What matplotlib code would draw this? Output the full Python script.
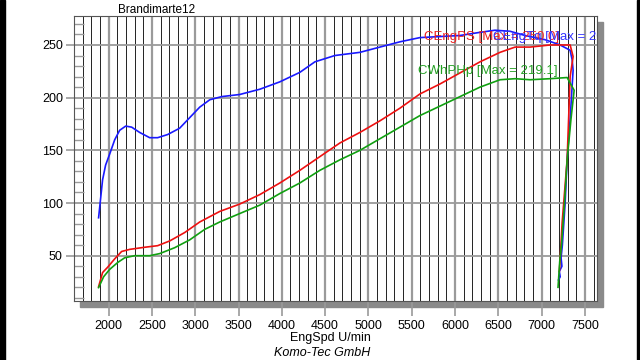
import matplotlib
matplotlib.use("Agg")
import matplotlib.pyplot as plt
from matplotlib.patches import Rectangle
from matplotlib.ticker import MultipleLocator

plt.rcParams['font.family'] = ['Liberation Sans', 'DejaVu Sans']

# engine torque (blue), engine power (red), wheel power (green) vs rpm
tq_rpm = [1884, 1930, 1965, 2010, 2070, 2127, 2197, 2266, 2358, 2474, 2566, 2682, 2820,
          2936, 3052, 3168, 3306, 3514, 3746, 3977, 4208, 4382, 4613, 4902, 5133, 5364,
          5595, 5827, 6058, 6289, 6462, 6636, 6809, 7040, 7214, 7329, 7353, 7364, 7330,
          7295, 7272, 7240, 7225, 7235, 7205, 7215, 7195]
tq_val = [86, 122, 136, 146, 160, 169, 173, 172, 167, 162, 162, 165, 171,
          181, 191, 198, 201, 203, 208, 215, 224, 234, 240, 243, 248, 253,
          257, 258, 259, 262, 264, 263, 259, 255, 250, 245, 236, 226, 180,
          141, 100, 60, 48, 40, 35, 30, 27]

ps_rpm = [1884, 1930, 1988, 2070, 2150, 2243, 2416, 2566, 2705, 2879, 3052, 3283, 3514,
          3746, 3977, 4208, 4439, 4671, 4902, 5133, 5364, 5595, 5827, 6058, 6289, 6520,
          6694, 6867, 6983, 7098, 7330, 7364, 7330, 7295, 7237, 7214, 7205]
ps_val = [20.6, 34, 39, 47, 54, 56, 58, 59.5, 64, 72, 82, 92, 99,
          108, 119, 131, 144, 157, 167, 178, 190, 203.5, 213, 223.5, 234, 243,
          248, 248, 249, 250, 250, 239, 220, 141, 81, 46, 35]

hp_rpm = [1884, 1942, 2012, 2104, 2185, 2300, 2474, 2590, 2763, 2936, 3110, 3283, 3514,
          3746, 3977, 4208, 4439, 4671, 4902, 5133, 5364, 5595, 5827, 6058, 6289, 6520,
          6694, 6867, 7098, 7295, 7376, 7340, 7295, 7265, 7230, 7210, 7190]
hp_val = [19.7, 30, 37, 43.5, 48, 50, 50, 52, 57.6, 65, 75, 82, 90,
          98, 109, 119, 131, 141, 150, 161, 172, 183, 192, 201, 210, 217,
          218, 217, 218, 219.1, 207, 180, 141, 100, 60, 45, 20]

x_ticks = [2000, 2500, 3000, 3500, 4000, 4500, 5000, 5500, 6000, 6500, 7000, 7500]
y_ticks = [50, 100, 150, 200, 250]

fig = plt.figure(figsize=(6.4, 3.6), dpi=100)
W, H = 640, 360

def fx(px):
    return px / W

def fy(py):
    return 1 - py / H

# black side bands
fig.patches.append(Rectangle((0, 0), fx(5), 1, transform=fig.transFigure,
                             color='black', zorder=-5))
fig.patches.append(Rectangle((fx(637), 0), fx(3), 1, transform=fig.transFigure,
                             color='black', zorder=-5))
# drop shadow behind the plot
fig.patches.append(Rectangle((fx(80), fy(307)), fx(603 - 80), fy(22) - fy(307),
                             transform=fig.transFigure, color='#8a8a8a', zorder=-5))

ax = fig.add_axes([fx(74), fy(301), fx(597 - 74), fy(16) - fy(301)])
ax.set_zorder(1)
ax.set_xlim(1600, 7640)
ax.set_ylim(7, 277.5)

ax.xaxis.set_minor_locator(MultipleLocator(100))
ax.yaxis.set_minor_locator(MultipleLocator(10))
ax.set_xticks(x_ticks)
ax.set_yticks(y_ticks)
ax.grid(True, which='minor', axis='x', color='#222222', lw=0.7)
ax.grid(True, which='major', axis='x', color='#9a9a9a', lw=1.6)
ax.grid(True, which='major', axis='y', color='#9a9a9a', lw=1.3)
ax.set_axisbelow(True)

ax.tick_params(axis='x', which='major', direction='out', length=11, width=1.2,
               color='#9a9a9a', labelsize=9, pad=3)
ax.tick_params(axis='x', which='minor', length=0)
ax.tick_params(axis='y', which='major', direction='out', length=6, width=1.2,
               color='#9a9a9a', labelsize=9, pad=2)
ax.tick_params(axis='y', which='minor', direction='in', length=7, width=1.0,
               color='#9a9a9a')
for s in ax.spines.values():
    s.set_color('#555555')
    s.set_linewidth(0.8)

ax.plot(tq_rpm, tq_val, color='#1a1aff', lw=1.2)
ax.plot(ps_rpm, ps_val, color='#ee1111', lw=1.2)
ax.plot(hp_rpm, hp_val, color='#11a011', lw=1.2)

ax.text(5642, 257.6, 'CEngPS [Max = 250.0]', color='#ee2222', fontsize=9.5,
        va='center', ha='left', clip_on=True)
ax.text(6439, 257.6, 'CEngTq [Max = 264.8]', color='#3333ff', fontsize=9.5,
        va='center', ha='left', clip_on=True)
ax.text(5572, 225.4, 'CWhPHp [Max = 219.1]', color='#22a022', fontsize=9.5,
        va='center', ha='left', clip_on=True)

fig.text(fx(118), fy(10), 'Brandimarte12', fontsize=8.5, va='center', ha='left')
fig.text(fx(330), fy(338), 'EngSpd U/min', fontsize=9, va='center', ha='center')
fig.text(fx(322), fy(353), 'Komo-Tec GmbH', fontsize=9, style='italic',
         va='center', ha='center')

fig.savefig('out.png', dpi=100)
